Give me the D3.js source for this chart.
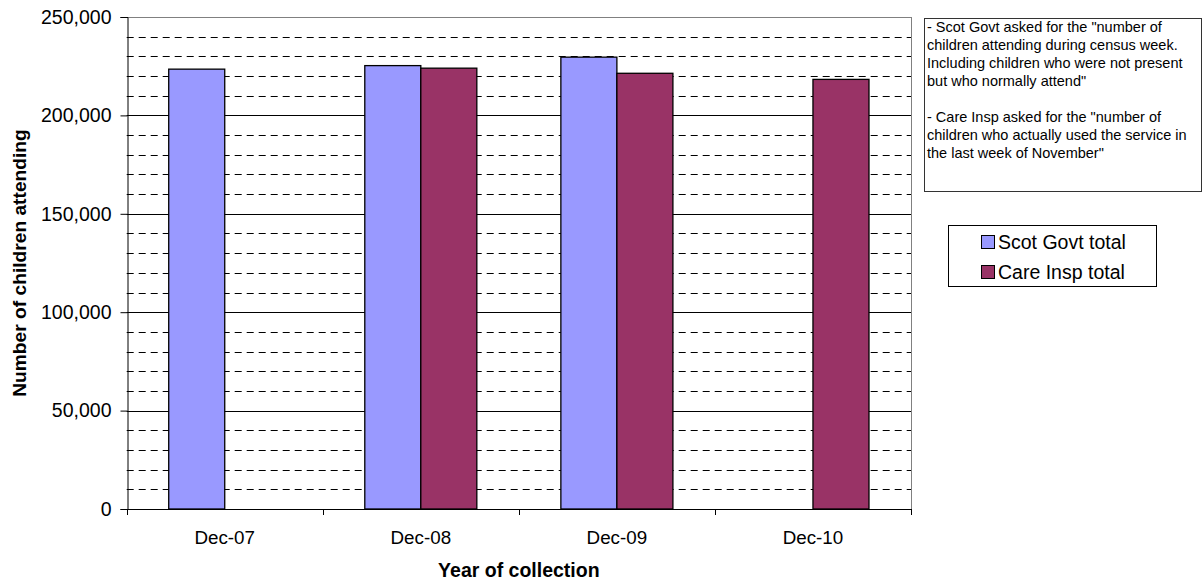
<!DOCTYPE html>
<html>
<head>
<meta charset="utf-8">
<script src="https://cdn.jsdelivr.net/npm/d3@7"></script>
<style>
  html, body { margin: 0; padding: 0; background: #fff; }
  svg { display: block; font-family: Arial, "Liberation Sans", sans-serif; }
</style>
</head>
<body>
<svg id="chart" width="1203" height="585"></svg>
<script>
const categories = ["Dec-07", "Dec-08", "Dec-09", "Dec-10"];
const seriesNames = ["Scot Govt total", "Care Insp total"];
const scotGovt = [223500, 225300, 229600, null];
const careInsp = [null, 224000, 221400, 218300];
const seriesColors = ["#9999FF", "#993366"];
const yTicks = [0, 50000, 100000, 150000, 200000, 250000];
const yMinor = d3.range(10000, 250000, 10000).filter(v => v % 50000 !== 0);
const noteLines = [
  '- Scot Govt asked for the "number of',
  'children attending during census week.',
  'Including children who were not present',
  'but who normally attend"',
  '',
  '- Care Insp asked for the "number of',
  'children who actually used the service in',
  'the last week of November"'
];

const svg = d3.select("#chart");
const plot = { left: 126.7, right: 911, top: 17, bottom: 509 };

const x = d3.scaleBand().domain(categories).range([plot.left, plot.right]).padding(0);
const y = d3.scaleLinear().domain([0, 250000]).range([plot.bottom, plot.top]);
const barW = x.bandwidth() / 3.5;
const series = [scotGovt, careInsp];

// minor dashed gridlines
svg.append("g").selectAll("line").data(yMinor).join("line")
  .attr("x1", plot.left).attr("x2", plot.right)
  .attr("y1", d => Math.round(y(d)) + 0.5).attr("y2", d => Math.round(y(d)) + 0.5)
  .attr("stroke", "#000").attr("stroke-width", 1).attr("stroke-dasharray", "7,5");

// major gridlines
svg.append("g").selectAll("line").data(yTicks.filter(v => v > 0 && v < 250000)).join("line")
  .attr("x1", plot.left).attr("x2", plot.right)
  .attr("y1", d => Math.round(y(d)) + 0.5).attr("y2", d => Math.round(y(d)) + 0.5)
  .attr("stroke", "#000").attr("stroke-width", 1);

// plot border (top / right grey)
svg.append("line").attr("x1", plot.left).attr("x2", plot.right)
  .attr("y1", Math.round(y(250000)) + 0.5).attr("y2", Math.round(y(250000)) + 0.5)
  .attr("stroke", "#808080");
svg.append("line").attr("x1", Math.round(plot.right) + 0.5).attr("x2", Math.round(plot.right) + 0.5)
  .attr("y1", plot.top).attr("y2", plot.bottom).attr("stroke", "#808080");

// bars
series.forEach((vals, si) => {
  svg.append("g").selectAll("rect")
    .data(categories.map((c, i) => ({ c, v: vals[i] })).filter(d => d.v != null))
    .join("rect")
    .attr("x", d => x(d.c) + x.bandwidth() / 2 - barW + si * barW)
    .attr("width", barW)
    .attr("y", d => y(d.v))
    .attr("height", d => y(0) - y(d.v))
    .attr("fill", seriesColors[si])
    .attr("stroke", "#000").attr("stroke-width", 1.3);
});

// y axis
const yAxis = d3.axisLeft(y).tickValues(yTicks).tickSize(7).tickPadding(9)
  .tickFormat(d3.format(","));
const gy = svg.append("g").attr("transform", `translate(${Math.round(plot.left) + 0.5},0)`).call(yAxis);
gy.select(".domain").attr("stroke", "#000");
gy.selectAll(".tick line").attr("stroke", "#000");
gy.selectAll("text").attr("font-size", "19.5px").attr("fill", "#000")
  .attr("font-family", "Arial, 'Liberation Sans', sans-serif");

// x axis
const bounds = d3.range(categories.length + 1).map(i => plot.left + i * x.bandwidth());
const gx = svg.append("g");
gx.append("line").attr("x1", plot.left).attr("x2", plot.right + 1)
  .attr("y1", Math.round(plot.bottom) + 0.5).attr("y2", Math.round(plot.bottom) + 0.5)
  .attr("stroke", "#000");
gx.selectAll("line.tk").data(bounds).join("line").attr("class", "tk")
  .attr("x1", d => Math.round(d) + 0.5).attr("x2", d => Math.round(d) + 0.5)
  .attr("y1", plot.bottom).attr("y2", plot.bottom + 6).attr("stroke", "#000");
gx.selectAll("text").data(categories).join("text")
  .attr("x", d => x(d) + x.bandwidth() / 2).attr("y", 537)
  .attr("dy", "0.35em").attr("text-anchor", "middle")
  .attr("font-size", "18.8px").attr("fill", "#000").text(d => d);

// axis titles
svg.append("text").attr("x", (plot.left + plot.right) / 2).attr("y", 570)
  .attr("dy", "0.35em").attr("text-anchor", "middle")
  .attr("font-size", "19.5px").attr("font-weight", "bold").text("Year of collection");
svg.append("text").attr("transform", `translate(19,${(plot.top + plot.bottom) / 2}) rotate(-90)`)
  .attr("dy", "0.35em").attr("text-anchor", "middle")
  .attr("font-size", "19.2px").attr("font-weight", "bold").text("Number of children attending");

// note box
svg.append("rect").attr("x", 924.5).attr("y", 18.5).attr("width", 277).attr("height", 173)
  .attr("fill", "#fff").attr("stroke", "#333").attr("stroke-width", 1);
svg.append("g").selectAll("text").data(noteLines).join("text")
  .attr("x", 927).attr("y", (d, i) => 27 + i * 18).attr("dy", "0.35em")
  .attr("font-size", "14.5px").attr("fill", "#000").text(d => d);

// legend
const lg = svg.append("g");
lg.append("rect").attr("x", 948.5).attr("y", 225.5).attr("width", 208).attr("height", 61)
  .attr("fill", "#fff").attr("stroke", "#000");
seriesNames.forEach((n, i) => {
  const cy = 242 + i * 30;
  lg.append("rect").attr("x", 981.5).attr("y", cy - 6.5).attr("width", 13).attr("height", 13)
    .attr("fill", seriesColors[i]).attr("stroke", "#000");
  lg.append("text").attr("x", 998).attr("y", cy).attr("dy", "0.35em")
    .attr("font-size", "19.5px").attr("fill", "#000").text(n);
});
</script>
</body>
</html>
